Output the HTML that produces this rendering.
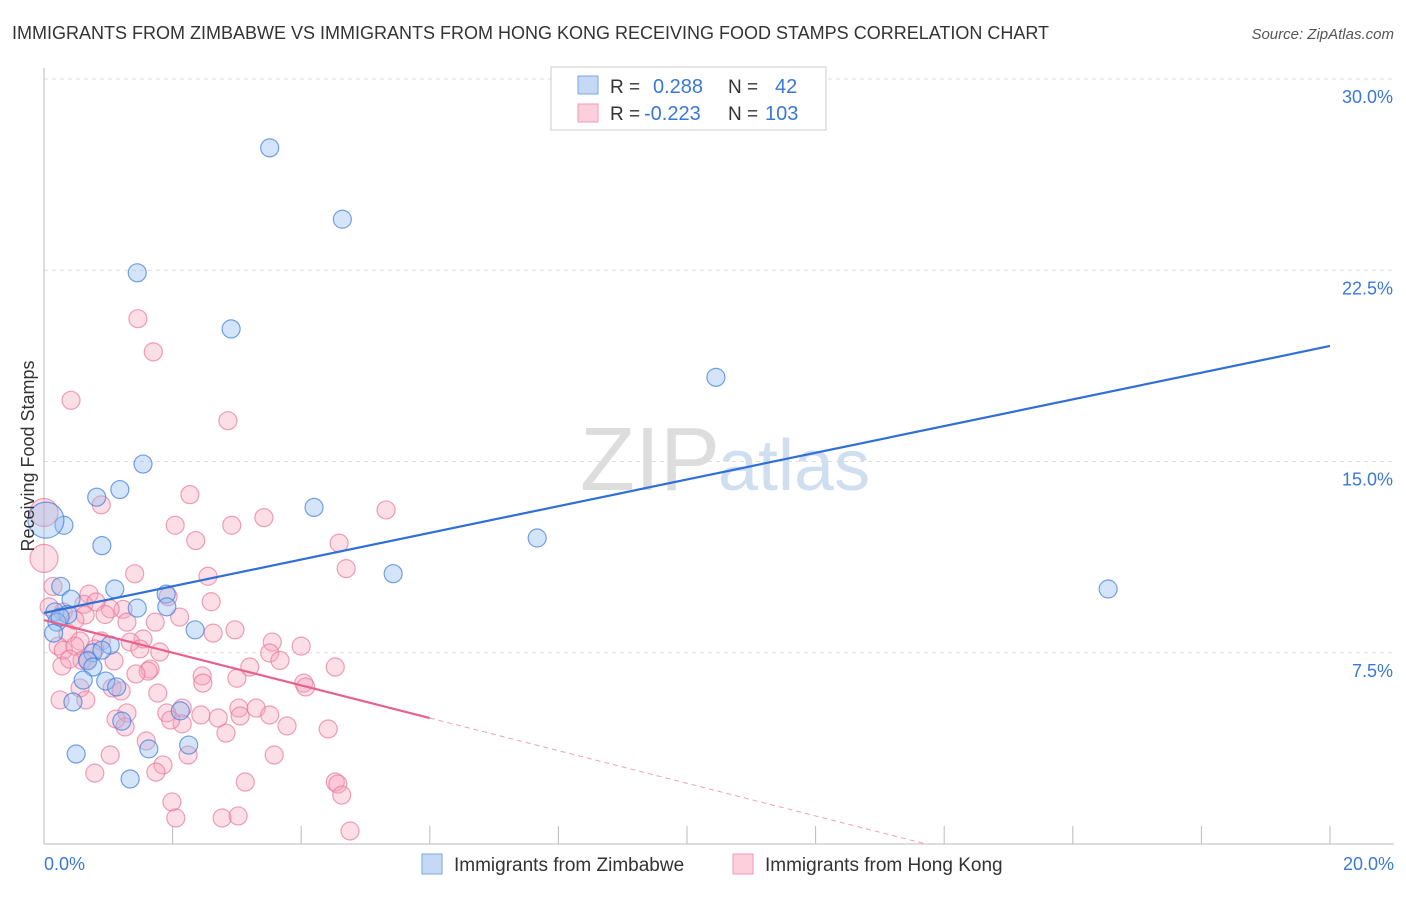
<!DOCTYPE html>
<html><head><meta charset="utf-8"><style>
body{margin:0;background:#fff;font-family:"Liberation Sans",sans-serif;}
svg text{font-family:"Liberation Sans",sans-serif;}
</style></head><body>
<svg id="chart" width="1406" height="892">
<text x="12" y="39" font-size="18" fill="#333">IMMIGRANTS FROM ZIMBABWE VS IMMIGRANTS FROM HONG KONG RECEIVING FOOD STAMPS CORRELATION CHART</text>
<text x="1394" y="39" font-size="15" fill="#555" font-style="italic" text-anchor="end">Source: ZipAtlas.com</text>
<text x="720" y="490" font-size="90" fill="#ddd" text-anchor="end" font-family="Liberation Serif">ZIP</text>
<text x="718" y="490" font-size="72" fill="#cfdff0">atlas</text>
<g id="grid"></g>
<line x1="44" y1="68" x2="44" y2="844" stroke="#bbb"/>
<line x1="44" y1="844" x2="1394" y2="844" stroke="#bbb"/>
<g id="pts"></g>
<g id="lines"></g>
<text transform="translate(34,456) rotate(-90)" font-size="18" fill="#333" text-anchor="middle">Receiving Food Stamps</text>
<text x="44" y="870" font-size="18" fill="#3b78d6">0.0%</text>
<text x="1394" y="870" font-size="18" fill="#3b78d6" text-anchor="end">20.0%</text>
<g id="ylabels"></g>
<g>
<rect x="551" y="67" width="275" height="63" fill="#fff" stroke="#ccc"/>
<rect x="578" y="76" width="20" height="18" fill="#c5d9f5" stroke="#7aa6e6"/>
<rect x="578" y="104" width="20" height="18" fill="#fbd0dc" stroke="#f09ab4"/>
<text x="610" y="93" font-size="19" fill="#333">R =</text><text x="653" y="93" font-size="20" fill="#3b78d6">0.288</text>
<text x="728" y="93" font-size="19" fill="#333">N =</text><text x="775" y="93" font-size="20" fill="#3b78d6">42</text>
<text x="610" y="120" font-size="19" fill="#333">R =</text><text x="644" y="120" font-size="20" fill="#3b78d6">-0.223</text>
<text x="728" y="120" font-size="19" fill="#333">N =</text><text x="765" y="120" font-size="20" fill="#3b78d6">103</text>
</g>
<g>
<rect x="422" y="854" width="20" height="20" fill="#c5d9f5" stroke="#7aa6e6"/>
<text x="454" y="871" font-size="19" fill="#333">Immigrants from Zimbabwe</text>
<rect x="733" y="854" width="20" height="20" fill="#fbd0dc" stroke="#f09ab4"/>
<text x="765" y="871" font-size="19" fill="#333">Immigrants from Hong Kong</text>
</g>
</svg>
<script>
const yTicks=[7.5,15,22.5,30];
const yTickLabels=["7.5%","15.0%","22.5%","30.0%"];
const xTicks=[2,4,6,8,10,12,14,16,18,20];
const blueX=[3.51,4.64,1.45,2.91,10.45,1.54,0.82,1.18,0.31,4.2,0.9,7.67,5.43,16.55,0.26,1.1,0.42,1.9,1.91,0.17,1.45,0.37,0.2,2.35,0.15,1.03,0.76,0.9,0.68,0.76,0.61,0.96,1.13,0.45,1.21,2.12,0.5,1.63,2.25,1.34,0.03,0.25];
const blueY=[27.3,24.5,22.4,20.2,18.3,14.9,13.6,13.9,12.5,13.2,11.7,12.0,10.6,10.0,10.1,10.0,9.6,9.8,9.3,9.1,9.25,9.0,8.7,8.4,8.27,7.8,7.5,7.6,7.18,6.94,6.43,6.39,6.16,5.57,4.82,5.22,3.53,3.73,3.88,2.55,12.7,8.9];
const blueR=[9,9,9,9,9,9,9,9,9,9,9,9,9,9,9,9,9,9,9,9,9,9,9,9,9,9,9,9,9,9,9,9,9,9,9,9,9,9,9,9,18,9];
const pinkX=[1.46,1.7,0.42,2.86,2.27,0.89,2.04,3.42,5.32,2.92,2.36,4.59,4.7,0.0,0.0,1.41,2.55,0.14,0.7,1.93,2.6,0.62,0.08,1.23,1.29,2.11,0.3,1.73,2.97,2.63,3.55,4.0,0.37,1.54,0.56,0.89,1.34,0.79,1.8,3.51,0.22,0.3,0.48,1.09,1.65,1.62,3.2,4.53,2.46,0.28,0.59,1.43,2.47,4.04,4.07,0.56,1.06,1.77,0.65,1.29,1.12,2.15,1.91,2.44,2.71,3.03,3.3,3.51,3.05,2.15,1.26,1.97,2.83,3.78,4.42,1.59,1.03,2.24,3.58,1.85,0.79,1.74,3.13,4.53,4.57,1.99,4.63,2.77,3.02,2.05,4.76,0.64,0.48,1.03,1.49,0.81,0.68,0.4,3.67,0.25,1.2,3.0,0.95];
const pinkY=[20.6,19.3,17.4,16.6,13.7,13.3,12.5,12.8,13.1,12.5,11.9,11.8,10.8,13.0,11.2,10.6,10.5,10.1,9.8,9.7,9.5,9.4,9.3,9.2,8.7,8.9,9.1,8.7,8.4,8.27,7.92,7.76,8.27,8.04,7.96,7.96,7.92,7.65,7.53,7.49,7.76,7.6,7.76,7.18,6.86,6.78,6.94,6.94,6.59,6.98,7.2,6.67,6.31,6.31,6.16,6.12,6.12,5.92,5.65,5.14,4.9,5.33,5.14,5.06,4.94,5.33,5.33,5.06,5.02,4.71,4.59,4.86,4.35,4.63,4.51,4.04,3.49,3.49,3.49,3.1,2.78,2.82,2.43,2.43,2.35,1.65,1.92,1.02,1.1,1.02,0.51,8.98,8.78,9.22,7.65,9.49,7.22,7.25,7.2,5.65,6.0,6.5,9.0];
const pinkR=pinkX.map((v,i)=>(i==13||i==14)?14:9);
const blueTrend=[9.06,19.53];
const pinkTrend=[8.78,-0.64];
const NS="http://www.w3.org/2000/svg";
const X0=44,X1=1330,Y0=844,YPX=25.5;
function sx(v){return X0+(X1-X0)*v/20;}
function sy(v){return Y0-YPX*v;}
function mk(t,a,p){const e=document.createElementNS(NS,t);for(const k in a)e.setAttribute(k,a[k]);p.appendChild(e);return e;}
const grid=document.getElementById('grid');
yTicks.forEach((t,i)=>{
 const l=mk('line',{x1:44,x2:1394,y1:sy(t),y2:sy(t),stroke:'#ddd','stroke-dasharray':'4,4'},grid);
 
 
 const tx=mk('text',{x:1393,y:sy(t)+24,'font-size':18,fill:'#3b78d6','text-anchor':'end'},document.getElementById('ylabels'));
 tx.textContent=yTickLabels[i];
 
 
});
xTicks.forEach(t=>{
 const l=mk('line',{x1:sx(t),x2:sx(t),y1:826,y2:844,stroke:'#bbb'},grid);
 
 
});
const pts=document.getElementById('pts');
pinkX.forEach((x,i)=>{
 const c=mk('circle',{cx:sx(x),cy:sy(pinkY[i]),r:pinkR[i],fill:'rgba(245,160,185,0.35)',stroke:'rgba(232,120,155,0.7)','stroke-width':1.2},pts);
 
 
});
blueX.forEach((x,i)=>{
 const c=mk('circle',{cx:sx(x),cy:sy(blueY[i]),r:blueR[i],fill:'rgba(150,190,240,0.4)',stroke:'rgba(70,130,220,0.75)','stroke-width':1.2},pts);
 
 
});
const lines=document.getElementById('lines');
const bl=mk('line',{x1:sx(0),y1:sy(blueTrend[0]),x2:sx(20),y2:sy(blueTrend[1]),stroke:'#2f6fd6','stroke-width':2.2},lines);


const pEnd=6, pZero=-pinkTrend[0]/pinkTrend[1];
const pl=mk('line',{x1:sx(0),y1:sy(pinkTrend[0]),x2:sx(pEnd),y2:sy(pinkTrend[0]+pinkTrend[1]*pEnd),stroke:'#e8608c','stroke-width':2.2},lines);


const pd=mk('line',{x1:sx(pEnd),y1:sy(pinkTrend[0]+pinkTrend[1]*pEnd),x2:sx(pZero),y2:sy(0),stroke:'#f0a0b8','stroke-width':1,'stroke-dasharray':'5,4'},lines);


</script>
</body></html>
